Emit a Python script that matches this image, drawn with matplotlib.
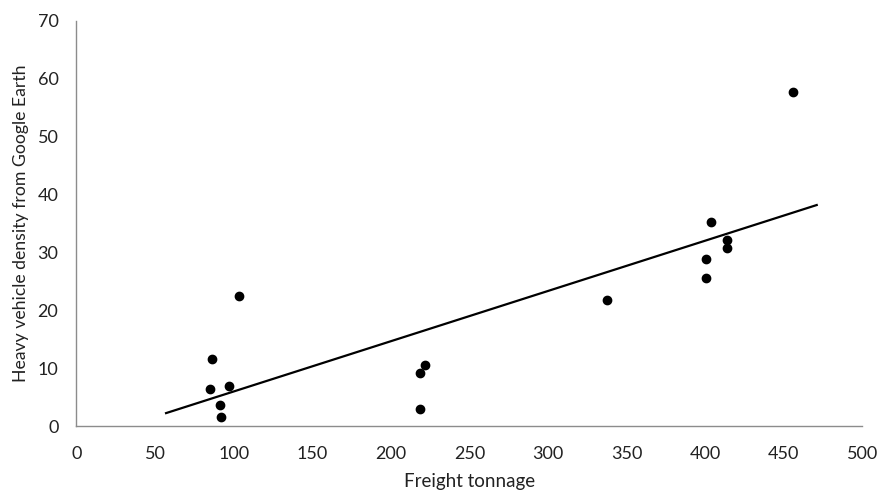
import numpy as np
import matplotlib.pyplot as plt

# freight tonnage vs heavy vehicle density
freight = [103.6, 86.0, 84.9, 96.8, 91.3, 92.1, 218.7, 221.9, 218.7,
           337.3, 403.8, 413.6, 413.6, 400.3, 400.3, 455.6]
density = [22.5, 11.5, 6.4, 6.9, 3.7, 1.55, 9.1, 10.5, 2.9,
           21.8, 35.3, 32.1, 30.7, 28.9, 25.6, 57.7]
trend_range = [57, 471]

plt.rcParams['font.family'] = ['Lato', 'DejaVu Sans']

fig = plt.figure(figsize=(8.79, 4.92), dpi=100)
ax = fig.add_axes([0.087, 0.134, 0.894, 0.824])

ax.scatter(freight, density, s=36, color='black', zorder=3)

slope, intercept = np.polyfit(freight, density, 1)
tx = np.array(trend_range)
ax.plot(tx, slope * tx + intercept, color='black', linewidth=1.6)

ax.set_xlim(0, 500)
ax.set_ylim(0, 70)
ax.set_xticks(range(0, 501, 50))
ax.set_yticks(range(0, 71, 10))
ax.tick_params(length=0, labelsize=13, colors='#222222')
ax.tick_params(axis='x', pad=14)
ax.tick_params(axis='y', pad=13)
for side in ['top', 'right']:
    ax.spines[side].set_visible(False)
for side in ['left', 'bottom']:
    ax.spines[side].set_color('#8c8c8c')
    ax.spines[side].set_linewidth(1.0)

ax.set_xlabel('Freight tonnage', fontsize=13.5, color='#222222', labelpad=8)
ax.set_ylabel('Heavy vehicle density from Google Earth', fontsize=12.7,
              color='#222222', labelpad=6)

fig.savefig('out.png', dpi=100)
